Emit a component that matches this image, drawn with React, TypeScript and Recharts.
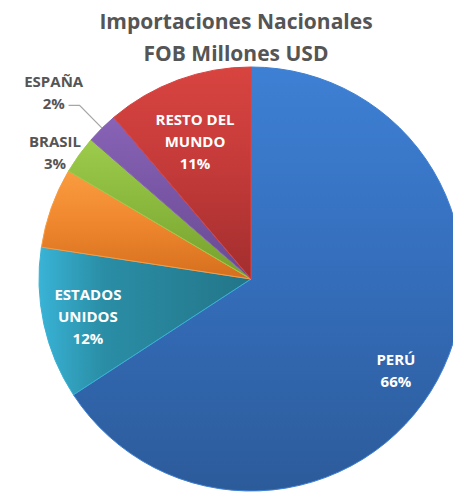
import { PieChart, Pie, Cell } from "recharts";

const countries = ["PERÚ", "ESTADOS UNIDOS", "OTROS", "BRASIL", "ESPAÑA", "RESTO DEL MUNDO"];
const shares = [65.8, 11.6, 6.1, 2.9, 2.4, 11.2];
const labelLines = [["PERÚ"], ["ESTADOS", "UNIDOS"], [], ["BRASIL"], ["ESPAÑA"], ["RESTO DEL", "MUNDO"]];

const data = countries.map((name, i) => ({ name, value: shares[i] }));

// light / mid / dark tones for each slice gradient
const tones = [
  ["#3e80d4", "#356fbd", "#2c5b9a"],
  ["#39b3d6", "#2a8ea6", "#237588"],
  ["#fa9c40", "#f0882f", "#d66f1e"],
  ["#9dcb4b", "#8bb93e", "#76a02d"],
  ["#8863b6", "#7a57a6", "#684a91"],
  ["#d84440", "#c53b3a", "#a32e2e"],
];
const horizontal = [false, true, false, false, false, false];

// label placement: fraction of radius and angle nudge
const labelRadius = [0.81, 0.79, 0, 1.1, 1.28, 0.7];
const labelShift = [-4, 0.9, 0, 3, 2, 2];
const outside = [false, false, false, true, true, false];

const RAD = Math.PI / 180;
const FONT = "'Open Sans', Lato, sans-serif";

function renderLabel(props: any) {
  const { cx, cy, midAngle, outerRadius, percent, index } = props;
  const lines = labelLines[index];
  if (!lines.length) return null;
  const a = (midAngle + labelShift[index]) * RAD;
  const r = outerRadius * labelRadius[index];
  const x = cx + r * Math.cos(a);
  const y = cy - r * Math.sin(a);
  const all = [...lines, `${Math.round(percent * 100)}%`];
  const lh = 22;
  const top = y - ((all.length - 1) * lh) / 2 + 5;
  let leader = null;
  if (index === 4) {
    const m = midAngle * RAD;
    const p1 = [cx + outerRadius * Math.cos(m), cy - outerRadius * Math.sin(m)];
    const p2 = [cx + (outerRadius + 32) * Math.cos(m), cy - (outerRadius + 32) * Math.sin(m)];
    const p3 = [p2[0] - 11, p2[1]];
    leader = (
      <polyline
        points={`${p1[0]},${p1[1]} ${p2[0]},${p2[1]} ${p3[0]},${p3[1]}`}
        fill="none"
        stroke="#a6a6a6"
        strokeWidth={1.3}
      />
    );
  }
  return (
    <g>
      {leader}
      <text
        x={x}
        textAnchor="middle"
        fontFamily={FONT}
        fontWeight={700}
        fontSize={15}
        fill={outside[index] ? "#555555" : "#ffffff"}
      >
        {all.map((t, i) => (
          <tspan key={i} x={x} y={top + i * lh}>
            {t}
          </tspan>
        ))}
      </text>
    </g>
  );
}

export default function App() {
  return (
    <div style={{ position: "absolute", left: 0, top: 0, width: 453, height: 492, background: "#fff" }}>
      <div
        style={{
          position: "absolute",
          left: 0,
          top: 5,
          width: 472,
          textAlign: "center",
          fontFamily: FONT,
          fontWeight: 700,
          fontSize: 21,
          lineHeight: "32px",
          color: "#555555",
        }}
      >
        <div>Importaciones Nacionales</div>
        <div>FOB Millones USD</div>
      </div>
      <PieChart
        width={453}
        height={492}
        margin={{ top: 0, right: 0, bottom: 0, left: 0 }}
        style={{ position: "absolute", left: 0, top: 0 }}
      >
        <defs>
          {tones.map(([light, mid, dark], i) => (
            <linearGradient
              key={i}
              id={`g${i}`}
              x1="0"
              y1="0"
              x2={horizontal[i] ? "1" : "0"}
              y2={horizontal[i] ? "0" : "1"}
            >
              <stop offset="0%" stopColor={light} />
              <stop offset={horizontal[i] ? "30%" : "45%"} stopColor={mid} />
              <stop offset="100%" stopColor={dark} />
            </linearGradient>
          ))}
        </defs>
        <Pie
          data={data}
          dataKey="value"
          nameKey="name"
          cx={251}
          cy={279}
          outerRadius={212}
          startAngle={90}
          endAngle={-270}
          label={renderLabel}
          labelLine={false}
          isAnimationActive={false}
        >
          {data.map((_, i) => (
            <Cell key={i} fill={`url(#g${i})`} stroke={tones[i][0]} strokeWidth={1} />
          ))}
        </Pie>
      </PieChart>
    </div>
  );
}
